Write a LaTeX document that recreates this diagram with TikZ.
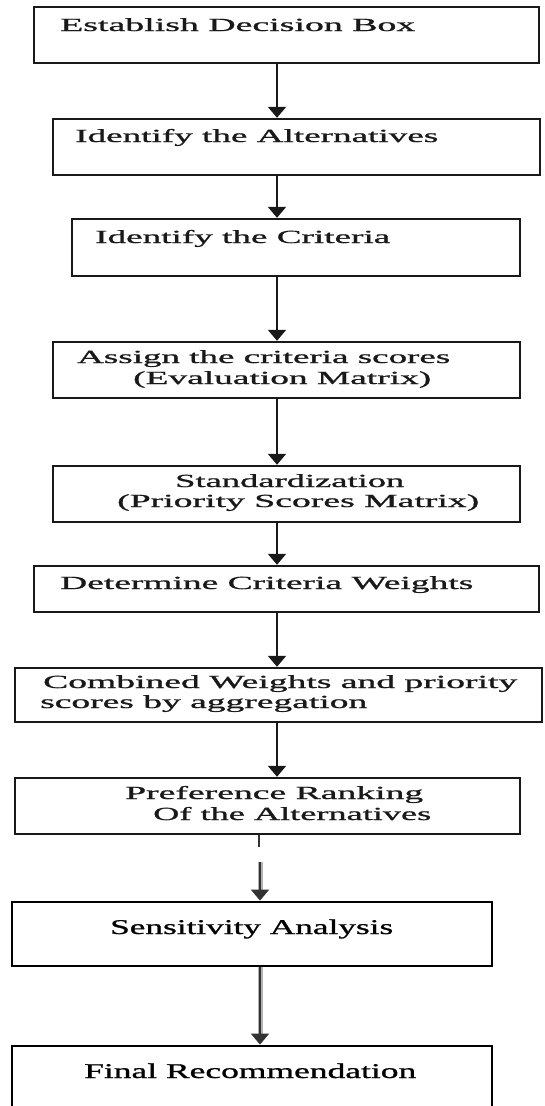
\documentclass[tikz,border=0pt]{standalone}
\usepackage{fontspec}
\setmainfont{Liberation Serif}
% slightly heavier strokes for the box captions
\newfontfamily\stepfont[FakeBold=0.8]{Liberation Serif}
\usetikzlibrary{arrows.meta}
% stretch one line of text to a given width, keeping its height
\newcommand\wline[2]{\resizebox{#1pt}{\height}{#2}}
\begin{document}
\begin{tikzpicture}[x=1pt,y=-1pt,
  box/.style={draw=black!90, line width=2.4pt, inner sep=0pt},
  lowbox/.style={box, draw=black, line width=2.8pt},
  steptext/.style={anchor=base west, inner sep=0pt, text=black!90,
    font=\stepfont\fontsize{18.5}{20}\selectfont},
  lowtext/.style={steptext, text=black, font=\stepfont\fontsize{21}{23}\selectfont},
  flow/.style={line width=2.2pt, draw=black!90,
    -{Triangle[width=18pt,length=11pt]}},
  lowflow/.style={flow, draw=black!80,
    preaction={draw, -, line width=5pt, black!30, shorten >=11pt}},
]
\clip (0,0) rectangle (544,1106);

% process boxes
\node[box, minimum width=505pt, minimum height=56pt] (b1) at (286.5,35) {};
\node[box, minimum width=487pt, minimum height=56pt] (b2) at (296.5,147) {};
\node[box, minimum width=448pt, minimum height=57pt] (b3) at (296,247.5) {};
\node[box, minimum width=467pt, minimum height=56pt] (b4) at (286.5,370) {};
\node[box, minimum width=467pt, minimum height=56pt] (b5) at (286.5,494) {};
\node[box, minimum width=505pt, minimum height=46pt] (b6) at (286.5,589) {};
\node[box, minimum width=527pt, minimum height=54pt] (b7) at (278.5,695) {};
\node[box, minimum width=505pt, minimum height=56pt] (b8) at (267.5,806) {};
\node[lowbox, minimum width=480pt, minimum height=64pt] (b9) at (252,934) {};
\node[lowbox, minimum width=480pt, minimum height=100pt] (b10) at (252,1096) {};

% box texts
\node[steptext] (t1)  at (60,31)   {\wline{355}{Establish Decision Box}};
\node[steptext] (t2)  at (75,142)  {\wline{363}{Identify the Alternatives}};
\node[steptext] (t3)  at (95,243)  {\wline{295}{Identify the Criteria}};
\node[steptext] (t4a) at (77,363)  {\wline{373}{Assign the criteria scores}};
\node[steptext] (t4b) at (133,384) {\wline{298}{(Evaluation Matrix)}};
\node[steptext] (t5a) at (175,487) {\wline{229}{Standardization}};
\node[steptext] (t5b) at (117,507) {\wline{362}{(Priority Scores Matrix)}};
\node[steptext] (t6)  at (60,589)  {\wline{413}{Determine Criteria Weights}};
\node[steptext] (t7a) at (43,688)  {\wline{474}{Combined Weights and priority}};
\node[steptext] (t7b) at (40,708)  {\wline{327}{scores by aggregation}};
\node[steptext] (t8a) at (125,799) {\wline{298}{Preference Ranking}};
\node[steptext] (t8b) at (153,820) {\wline{278}{Of the Alternatives}};
\node[lowtext]  (t9)  at (110,934) {\wline{283}{Sensitivity Analysis}};
\node[lowtext]  (t10) at (84,1078) {\wline{332}{Final Recommendation}};

% connectors
\coordinate (axis) at (277,0);
\coordinate (lowaxis) at (260,0);
\foreach \a/\b in {b1/b2,b2/b3,b3/b4,b4/b5,b5/b6,b6/b7,b7/b8}
  \draw[flow] (\a.south -| axis) -- (\b.north -| axis);

% broken link below the ranking box
\coordinate (stubend) at (259,847);
\draw[line width=2.5pt, black!80] (b8.south -| stubend) -- (stubend);
\coordinate (resume) at (260,862);
\draw[lowflow] (resume) -- (b9.north -| resume);
\draw[lowflow] (b9.south -| lowaxis) -- (b10.north -| lowaxis);
\end{tikzpicture}
\end{document}
